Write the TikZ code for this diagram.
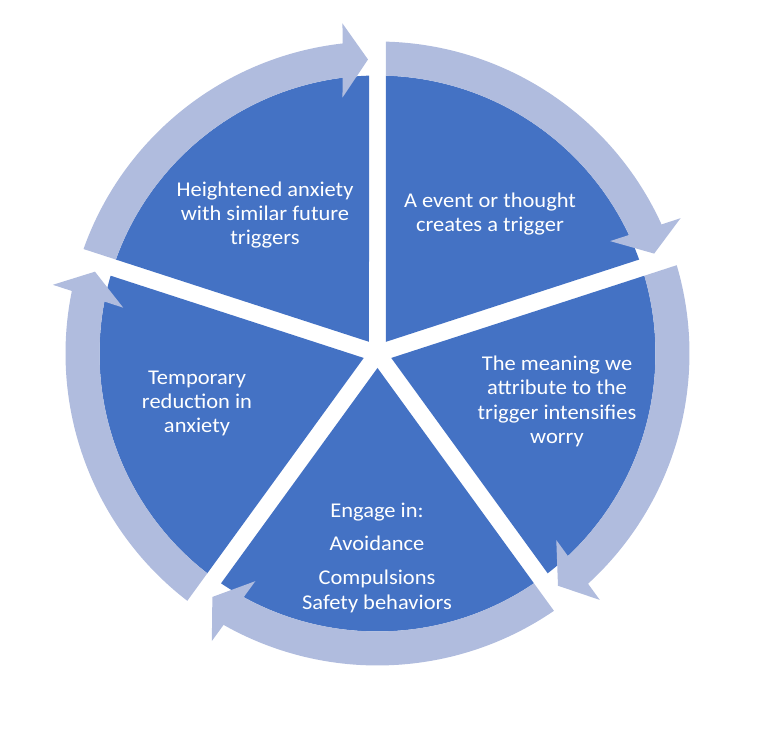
\documentclass[tikz,border=0pt]{standalone}
\usepackage{fontspec}
\setmainfont{Carlito}
\newfontfamily\lblfont[FakeStretch=1.07]{Carlito}
\usetikzlibrary{calc}
\definecolor{segblue}{RGB}{68,114,196}
\definecolor{ringblue}{RGB}{176,188,222}

\begin{document}
\begin{tikzpicture}[x=1pt,y=1pt,
	seg/.style={fill=segblue},
	ring/.style={fill=ringblue},
	lbl/.style={text=white,align=center,font=\lblfont\fontsize{21}{24.4}\selectfont}]
	\useasboundingbox (-377.5,-379.5) rectangle (394.5,353.5);
	% pie segments, gaps at 90, 18, -54, -126, -198
	\foreach \b in {90,18,-54,-126,-198}{
		\fill[seg] ({\b-36}:{8.5/sin(36)}) -- ({\b-asin(8.5/278)}:278)
			arc[start angle={\b-asin(8.5/278)}, end angle={\b-72+asin(8.5/278)}, radius=278] -- cycle;
	}
	% arrows round the pie, clockwise
	\foreach \b in {90,18,-54,-126,-198}{
		\pgfmathsetmacro{\e}{\b-72}
		\fill[ring] ({\b-asin(8.5/312)}:312)
			arc[start angle={\b-asin(8.5/312)}, end angle={\e+asin(35/312)}, radius=312]
			-- ($(\e:330)+(\e+90:35)$) -- ($(\e:294)+(\e+90:9.5)$) -- ($(\e:256)+(\e+90:35)$)
			-- ({\e+asin(35/278)}:278)
			arc[start angle={\e+asin(35/278)}, end angle={\b-asin(8.5/278)}, radius=278] -- cycle;
	}
	\node[lbl] (heightened) at (-112.5,138.5) {Heightened anxiety\\with similar future\\triggers};
	\node[lbl] (trigger) at (112.5,139.5) {A event or thought\\creates a trigger};
	\node[lbl] (meaning) at (179.5,-48) {The meaning we\\attribute to the\\trigger intensifies\\worry};
	\node[lbl] (engage) at (-0.5,-204.5) {Engage in:\\[8.6pt]Avoidance\\[9.6pt]Compulsions\\Safety behaviors};
	\node[lbl] (temporary) at (-180.5,-50) {Temporary\\reduction in\\anxiety};
\end{tikzpicture}
\end{document}
